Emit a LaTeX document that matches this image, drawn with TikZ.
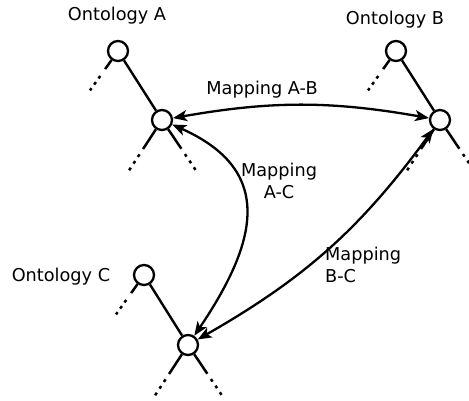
\documentclass[tikz,border=0pt]{standalone}
\usepackage{fontspec}
\setmainfont{DejaVu Sans}
\usetikzlibrary{arrows.meta}
\begin{document}
\begin{tikzpicture}[x=1pt,y=-1pt,
  onode/.style={circle,draw,line width=2.3pt,minimum size=20pt,inner sep=0pt},
  lbl/.style={font=\fontsize{17.7}{22.5}\selectfont,inner sep=0pt},
  treeedge/.style={line width=2.4pt},
  rootbr/.style={line width=2.5pt,dash pattern=on 11pt off 8.5pt on 3pt off 4.5pt on 3pt off 4.5pt on 3pt},
  childbr/.style={line width=2.5pt,dash pattern=on 23.5pt off 6.4pt on 3pt off 5pt on 3pt off 5pt on 3pt},
  maparrow/.style={line width=2.3pt,{Stealth[length=14pt,width=11pt,inset=3.5pt]}-{Stealth[length=14pt,width=11pt,inset=3.5pt]}}]
\useasboundingbox (0,0) rectangle (469,400);
% nodes
\node[onode] (a1) at (118,51) {};
\node[onode] (a2) at (162,120) {};
\node[onode] (b1) at (396,51) {};
\node[onode] (b2) at (440,120) {};
\node[onode] (c1) at (144,275) {};
\node[onode] (c2) at (188,345) {};
% labels
\node[lbl,anchor=base] (la) at (117,20.7) {Ontology A};
\node[lbl,anchor=base] (lb) at (395,24) {Ontology B};
\node[lbl,anchor=base] (lc) at (61,281.7) {Ontology C};
\node[lbl,anchor=base] (lab) at (262,94) {Mapping A-B};
\node[lbl,anchor=north,align=center] (lac) at (279,162.5) {Mapping\\A-C};
\node[lbl,anchor=north west,align=left] (lbc) at (325,246.5) {Mapping\\B-C};
% tree edges
\draw[treeedge] (a1) -- (a2);
\draw[treeedge] (b1) -- (b2);
\draw[treeedge] (c1) -- (c2);
% branches
\draw[rootbr] (a1) -- ++(-28,39.4);
\draw[rootbr] (b1) -- ++(-28,39.4);
\draw[rootbr] (c1) -- ++(-28,39.4);
\draw[childbr] (a2) -- ++(-33,50.5);
\draw[childbr] (a2) -- ++(34,50.5);
\draw[childbr] (b2) -- ++(-33,50.5);
\draw[childbr] (b2) -- ++(34,50.5);
\draw[childbr] (c2) -- ++(-33,50.5);
\draw[childbr] (c2) -- ++(34,50.5);
% mappings
\draw[maparrow] (a2) to[bend left=10] (b2);
\draw[maparrow] (a2) .. controls (272,169) and (261,237) .. (c2);
\draw[maparrow] (b2) to[bend left=12] (c2);
\end{tikzpicture}
\end{document}
